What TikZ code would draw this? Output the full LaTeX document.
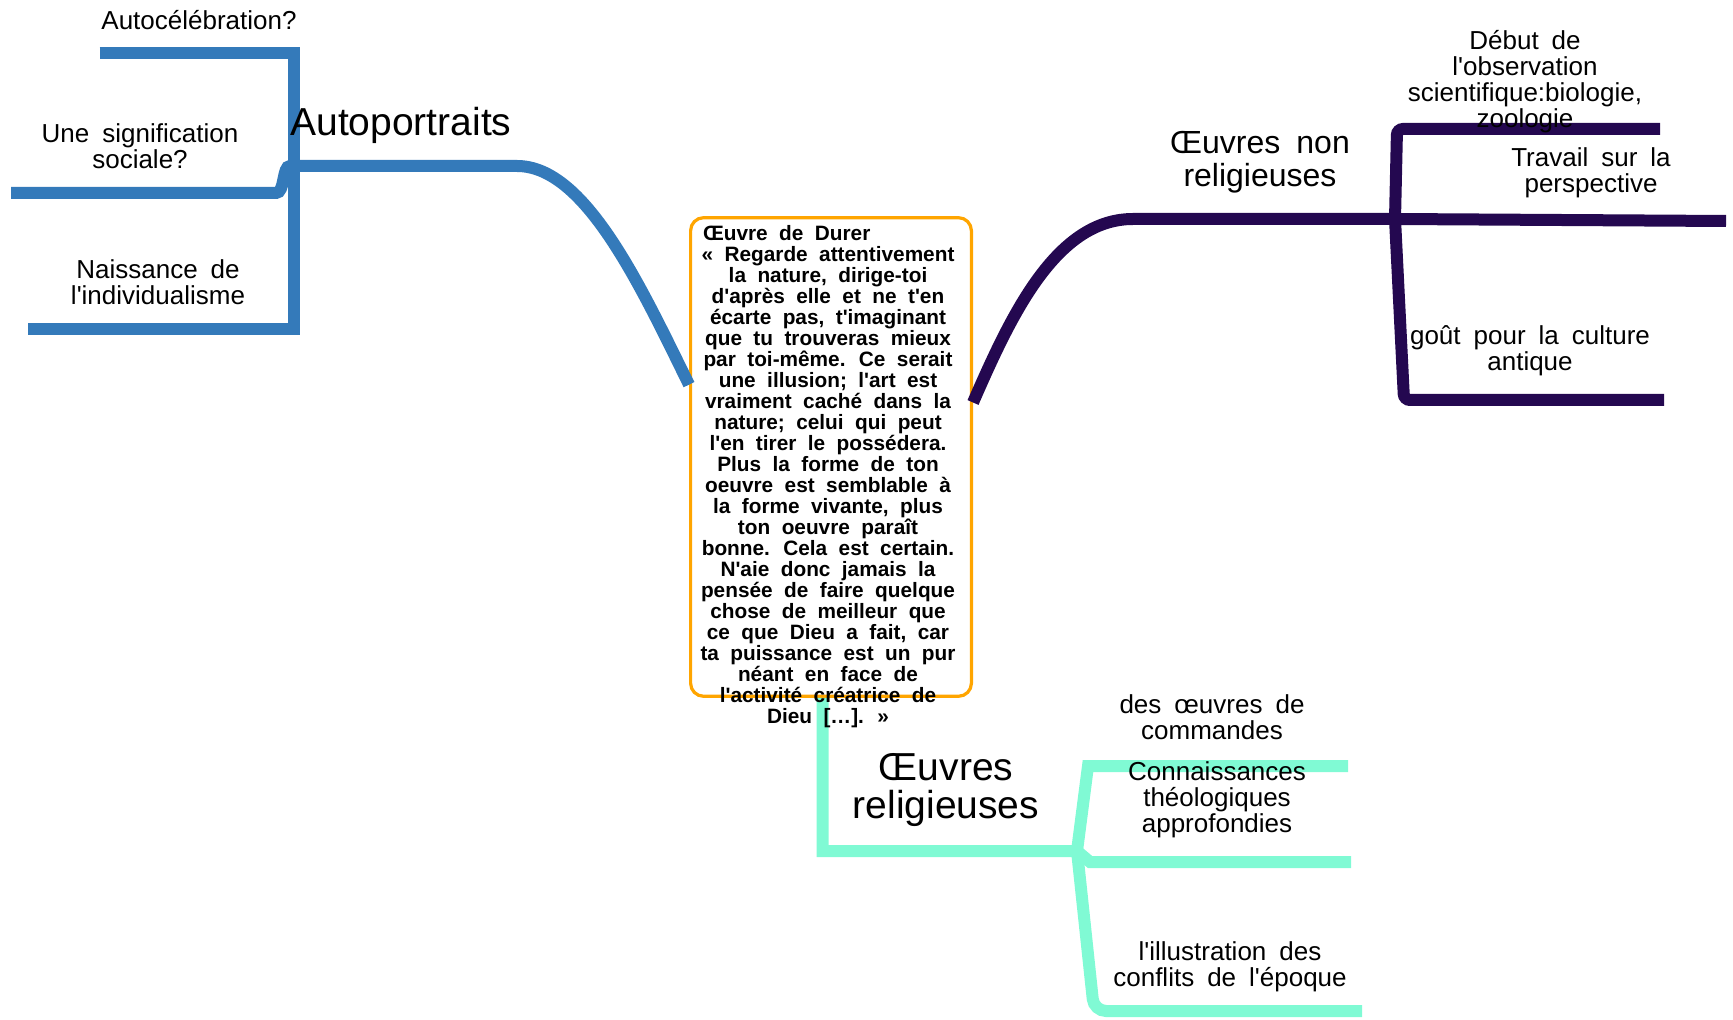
\documentclass[tikz,border=0pt]{standalone}
\usepackage{fontspec}
\setmainfont{Liberation Sans}[Ligatures=TeXOff]
\definecolor{bleuAuto}{RGB}{52,122,186}
\definecolor{violetNR}{RGB}{36,8,80}
\definecolor{vertRel}{RGB}{128,250,212}
\definecolor{orangeCit}{RGB}{255,165,0}
\begin{document}
\begin{tikzpicture}[x=0.5pt,y=-0.5pt,
  branche/.style={line width=6pt},
  cadre/.style={draw=orangeCit,line width=1.6pt,rounded corners=6.5pt,minimum width=140.4pt,minimum height=239.3pt,inner sep=0pt},
  citation/.style={align=center,inner sep=0pt,font={\bfseries\fontsize{10.4}{10.5}\selectfont\spaceskip=.55em\relax}},
  petit/.style={align=center,inner sep=0pt,font={\fontsize{13}{13}\selectfont\spaceskip=.5em\relax}},
  moyen/.style={align=center,inner sep=0pt,font={\fontsize{16}{16.6}\selectfont\spaceskip=.5em\relax}},
  grand/.style={align=center,inner sep=0pt,font={\fontsize{19.5}{19.3}\selectfont\spaceskip=.5em\relax}}]
   \useasboundingbox (0,0) rectangle (1733,1020);

   % cadre de la citation
   \node[cadre] (durer) at (831,457) {};

   % Autoportraits
   \coordinate (ac-w) at (99.5,53);
   \coordinate (ni-e) at (294,329);
   \coordinate (ni-w) at (27.6,329);
   \coordinate (us-w) at (11,193);
   \coordinate (ap-w) at (290,166);
   \coordinate (ap-e) at (517,166);
   \draw[branche,bleuAuto] (ac-w) -| (ni-e) -- (ni-w);
   \draw[branche,bleuAuto] (us-w) -- (276,193) .. controls (285,193) and (282,166) .. (ap-w) -- (ap-e) .. controls (585,166) and (640,285) .. (durer.153);

   % Oeuvres non religieuses
   \coordinate (nr-j) at (1395,219);
   \coordinate (tp-e) at (1726,221);
   \coordinate (db-e) at (1660,129);
   \coordinate (gc-e) at (1664,400);
   \draw[branche,violetNR] (durer.21) .. controls (1010,318) and (1055,219) .. (1133,219) -- (nr-j) -- (tp-e);
   \draw[branche,violetNR,rounded corners=3pt] (db-e) -- (1397,129) -- (nr-j) -- (1404,400) -- (gc-e);

   % Oeuvres religieuses
   \coordinate (re-j) at (1077,851);
   \coordinate (dc-e) at (1348,766);
   \coordinate (ct-e) at (1351,862);
   \coordinate (il-e) at (1362,1011);
   \draw[branche,vertRel] (durer.-92) |- (re-j) -- (1088,766) -- (dc-e);
   \draw[branche,vertRel] (re-j) -- (1090,862) -- (ct-e);
   \draw[branche,vertRel,rounded corners=6pt] (re-j) -- (1094,1011) -- (il-e);

   % textes
   \node[citation] (texte) at (828,477) {\makebox[125pt][l]{Œuvre de Durer}\\
      « Regarde attentivement\\ la nature, dirige-toi\\ d'après elle et ne t'en\\
      écarte pas, t'imaginant\\ que tu trouveras mieux\\ par toi-même. Ce serait\\
      une illusion; l'art est\\ vraiment caché dans la\\ nature; celui qui peut\\
      l'en tirer le possédera.\\ Plus la forme de ton\\ oeuvre est semblable à\\
      la forme vivante, plus\\ ton oeuvre paraît\\ bonne. Cela est certain.\\
      N'aie donc jamais la\\ pensée de faire quelque\\ chose de meilleur que\\
      ce que Dieu a fait, car\\ ta puissance est un pur\\ néant en face de\\
      l'activité créatrice de\\ Dieu […]. »};
   \node[grand,anchor=base west] (autoportraits) at (290,136) {Autoportraits};
   \node[petit] (autocelebration) at (199,20) {Autocélébration?};
   \node[petit] (sociale) at (140,146) {Une signification\\ sociale?};
   \node[petit] (naissance) at (158,282) {Naissance de\\ l'individualisme};
   \node[moyen] (nonreligieuses) at (1260,162) {Œuvres non\\ religieuses};
   \node[petit] (debut) at (1525,82) {Début de\\ l'observation\\ scientifique:biologie,\\ zoologie};
   \node[petit] (travail) at (1591,173) {Travail sur la\\ perspective};
   \node[petit] (gout) at (1530,351) {goût pour la culture\\ antique};
   \node[grand] (religieuses) at (946,790) {Œuvres\\ religieuses};
   \node[petit] (commandes) at (1212,717) {des œuvres de\\ commandes};
   \node[petit] (connaissances) at (1217,800) {Connaissances\\ théologiques\\ approfondies};
   \node[petit] (illustration) at (1230,967) {l'illustration des\\ conflits de l'époque};
\end{tikzpicture}
\end{document}
